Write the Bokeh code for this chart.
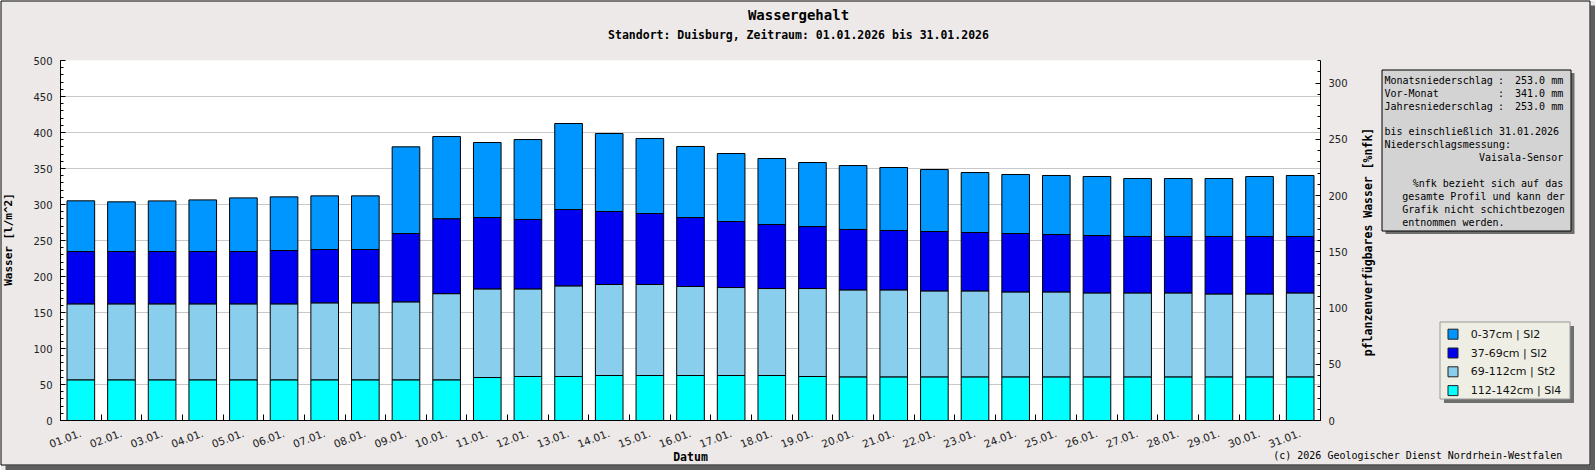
import math
from bokeh.plotting import figure
from bokeh.models import (Range1d, LinearAxis, FixedTicker, SingleIntervalTicker,
                          ColumnDataSource)
from bokeh.core.properties import value
from bokeh.embed import file_html
from bokeh.resources import INLINE

# ---------------- data ----------------
dates = [f"{d:02d}.01." for d in range(1, 32)]

# layer water content in l/m^2 (stacked from bottom to top)
layer_112_142 = [56.5, 56.5, 56.5, 56.5, 56.5, 56.5, 56.5, 56.5, 56.5, 56.5,
                 59.7, 61.1, 61.1, 62.5, 62.5, 62.5, 62.5, 62.5, 61.1,
                 60.6, 60.6, 60.6, 60.6, 60.6, 60.6, 60.6, 60.6, 60.6, 60.6, 60.6, 60.6]
layer_69_112 = [105.5, 105.5, 105.5, 105.5, 105.5, 105.5, 106.9, 106.9, 108.3, 119.7,
                123.1, 121.7, 125.9, 126.4, 126.4, 123.6, 122.2, 120.8, 122.2, 120.8,
                120.8, 119.4, 119.4, 118.0, 118.0, 116.6, 116.6, 116.6, 115.2, 115.2, 116.6]
layer_37_69 = [72.7, 72.7, 72.7, 72.7, 72.7, 74.1, 74.1, 74.1, 94.9, 104.1,
               99.1, 96.4, 106.0, 101.4, 98.6, 95.8, 91.7, 88.9, 86.1, 83.9,
               82.5, 82.5, 81.1, 81.1, 79.7, 79.7, 78.4, 78.4, 79.8, 79.8, 78.4]
layer_0_37 = [70.4, 69.0, 70.3, 71.7, 74.5, 74.5, 74.5, 74.5, 120.4, 114.1,
              104.2, 111.0, 119.5, 108.3, 104.2, 98.7, 94.4, 91.7, 88.9, 88.8,
              87.5, 86.1, 83.3, 82.0, 82.0, 82.0, 80.5, 80.5, 80.5, 83.3, 84.7]

legend_labels = ["0-37cm | Sl2", "37-69cm | Sl2", "69-112cm | St2", "112-142cm | Sl4"]
legend_colors = ["#0096FF", "#0000F0", "#8ACEEE", "#00FFFF"]

title_text = "Wassergehalt"
subtitle_text = "Standort: Duisburg, Zeitraum: 01.01.2026 bis 31.01.2026"
info_names = ["Monatsniederschlag", "Vor-Monat", "Jahresniederschlag"]
info_values = ["253.0 mm", "341.0 mm", "253.0 mm"]
info_until = "bis einschließlich 31.01.2026"
info_meas = ["Niederschlagsmessung:", "Vaisala-Sensor"]
info_note = ["%nfk bezieht sich auf das", "gesamte Profil und kann der",
             "Grafik nicht schichtbezogen", "entnommen werden."]
copyright_text = "(c) 2026 Geologischer Dienst Nordrhein-Westfalen"

# ---------------- figure ----------------
W, H = 1595, 470
BG = "#ECE9E8"
MONO = "DejaVu Sans Mono"
SANS = "DejaVu Sans"

p = figure(width=W, height=H, output_backend="svg", toolbar_location=None, title=None,
           x_range=Range1d(0.5, 31.5), y_range=Range1d(0, 500),
           min_border_left=60, min_border_right=275, min_border_top=60, min_border_bottom=50)
p.background_fill_color = "white"
p.border_fill_color = BG
p.outline_line_color = None

# helper ranges: page-pixel coordinates for decorations outside the plot area
p.extra_x_ranges = {"px": Range1d(60, 1320)}
p.extra_y_ranges = {"nfk": Range1d(0, 320), "py": Range1d(420, 60)}

src = ColumnDataSource(dict(x=list(range(1, 32)), l4=layer_112_142, l3=layer_69_112,
                            l2=layer_37_69, l1=layer_0_37))
rs = p.vbar_stack(["l4", "l3", "l2", "l1"], x="x", width=0.68, source=src,
                  fill_color=[legend_colors[3], legend_colors[2], legend_colors[1], legend_colors[0]],
                  line_color="black", line_width=1)

# right axis
ax_r = LinearAxis(y_range_name="nfk", ticker=SingleIntervalTicker(interval=50, num_minor_ticks=5))
p.add_layout(ax_r, "right")

ax_l = p.left[0]
ax_l.ticker = SingleIntervalTicker(interval=50, num_minor_ticks=5)
for ax in (ax_l, ax_r):
    ax.major_tick_in = 5
    ax.major_tick_out = 0
    ax.minor_tick_in = 3
    ax.minor_tick_out = 0
    ax.major_label_standoff = 8
    ax.major_label_text_font = SANS
    ax.major_label_text_font_size = "10px"
    ax.major_label_text_color = "#222222"
    ax.axis_line_color = "black"
    ax.major_tick_line_color = "black"
    ax.minor_tick_line_color = "black"

ax_b = p.below[0]
ax_b.ticker = FixedTicker(ticks=list(range(1, 32)), minor_ticks=[i + 0.5 for i in range(0, 32)])
ax_b.major_label_overrides = {i + 1: d for i, d in enumerate(dates)}
ax_b.major_tick_in = 0
ax_b.major_tick_out = 0
ax_b.minor_tick_in = 6
ax_b.minor_tick_out = 0
ax_b.major_label_orientation = 0.36
ax_b.major_label_standoff = 12
ax_b.major_label_text_font = SANS
ax_b.major_label_text_font_size = "10.5px"
ax_b.major_label_text_color = "#222222"
ax_b.axis_line_color = "black"
ax_b.minor_tick_line_color = "black"

p.xgrid.visible = False
p.ygrid.grid_line_color = "#C8C8C8"
p.ygrid.ticker = ax_l.ticker


def boxes(l, t, r, b, fill, line=None):
    p.quad(left=l, right=r, top=t, bottom=b, x_range_name="px", y_range_name="py",
           fill_color=fill, line_color=line, line_width=1, level="overlay")


def texts(xs, ys, tx, size="10px", font=MONO, align="left", bold=False, angle=0.0, color="black"):
    p.text(x=xs, y=ys, text=tx, x_range_name="px", y_range_name="py",
           text_font=value(font), text_font_size=size, text_align=align,
           text_baseline="middle", text_font_style="bold" if bold else "normal",
           text_color=color, angle=angle, level="overlay")


# outer frame with shadow
boxes([5, 1590], [465, 5], [1595, 1595], [470, 470], fill="#5E5E5E")
boxes([0.5], [0.5], [1589.5], [464.5], fill=None, line="black")

# titles
texts([798], [14.5], [title_text], size="14px", bold=True, align="center")
texts([798], [34], [subtitle_text], size="11.5px", bold=True, align="center")

# axis titles
texts([7.5], [239], ["Wasser [l/m^2]"], size="11px", bold=True, align="center", angle=math.pi / 2)
texts([1367.5], [241.5], ["pflanzenverfügbares Wasser [%nfk]"], size="11.5px", bold=True,
      align="center", angle=math.pi / 2)
texts([690], [456.5], ["Datum"], size="11.5px", bold=True, align="center")

# info box
boxes([1385], [72.5], [1574], [233.5], fill="#6E6E6E")
boxes([1381.5], [69.5], [1570.5], [230.5], fill="#D3D3D3", line="black")
row_y = [79.5, 92.5, 105.5]
texts([1384] * 3, row_y, info_names)
texts([1497.5] * 3, row_y, [":"] * 3)
texts([1562.7] * 3, row_y, info_values, align="right")
texts([1384], [131], [info_until])
texts([1384], [144.3], [info_meas[0]])
texts([1562.7], [157.3], [info_meas[1]], align="right")
texts([1562.7], [183.3], [info_note[0]], align="right")
texts([1401.7] * 3, [196.3, 209.3, 222.3], info_note[1:])

# legend (drawn as decoration in page pixels)
boxes([1443.5], [325.5], [1573.5], [402.5], fill="#6E6E6E")
boxes([1439.5], [321.5], [1569.5], [398.5], fill="#EEEEE4", line="#9A9A9A")
leg_y = [333.7 + 18.8 * i for i in range(len(legend_labels))]
boxes([1447.5] * 4, [y - 5 for y in leg_y], [1457.5] * 4, [y + 5 for y in leg_y],
      fill=legend_colors, line="#202020")
texts([1470.3] * 4, leg_y, legend_labels, size="11px", font=SANS, color="#111111")

# copyright
texts([1561.7], [455], [copyright_text], align="right")

open("out.html", "w").write(file_html(p, INLINE))
